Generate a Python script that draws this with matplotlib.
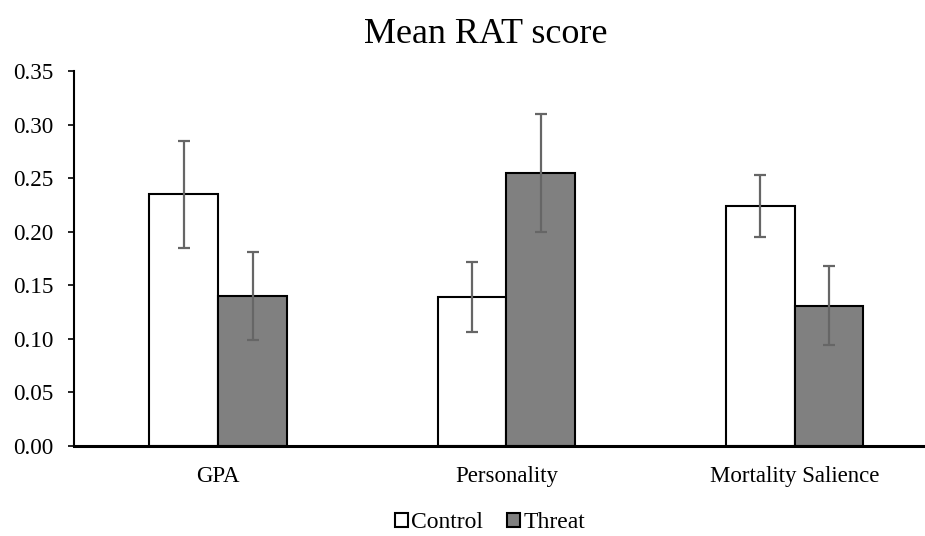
import matplotlib
matplotlib.use("Agg")
import matplotlib.pyplot as plt
from matplotlib.patches import Patch
import numpy as np

plt.rcParams["font.family"] = ["Liberation Serif", "DejaVu Serif"]

# Data
categories = ["GPA", "Personality", "Mortality Salience"]
control_means = [0.235, 0.139, 0.224]
control_errs = [0.050, 0.033, 0.029]
threat_means = [0.140, 0.255, 0.131]
threat_errs = [0.041, 0.055, 0.037]
y_ticks = [0.00, 0.05, 0.10, 0.15, 0.20, 0.25, 0.30, 0.35]

fig = plt.figure(figsize=(9.25, 5.36), dpi=100)
ax = fig.add_axes([0.08, 0.168, 0.935, 0.6995])

x = np.arange(len(categories))
width = 0.2385
err_style = dict(ecolor="#666666", elinewidth=1.6, capsize=4.5, capthick=1.6)

ax.bar(x - width / 2, control_means, width, color="white", edgecolor="black",
       linewidth=1.5, yerr=control_errs, error_kw=err_style, zorder=2)
ax.bar(x + width / 2, threat_means, width, color="#808080", edgecolor="black",
       linewidth=1.5, yerr=threat_errs, error_kw=err_style, zorder=2)

ax.set_xlim(-0.5, 2.5)
ax.set_ylim(0, 0.35)
ax.set_yticks(y_ticks)
ax.set_yticklabels([f"{t:.2f}" for t in y_ticks])
ax.set_xticks(x)
ax.set_xticklabels(categories)

ax.tick_params(axis="y", direction="out", length=4.5, width=1.2, pad=10.5, labelsize=16.7)
ax.tick_params(axis="x", length=0, pad=14.5, labelsize=16.5)

for side in ["top", "right"]:
    ax.spines[side].set_visible(False)
ax.spines["left"].set_linewidth(1.5)
ax.spines["bottom"].set_linewidth(2.2)

fig.text(486 / 925, 1 - 42.7 / 536, "Mean RAT score", ha="center", va="baseline", fontsize=26)

handles = [Patch(facecolor="white", edgecolor="black", linewidth=1.5, label="Control"),
           Patch(facecolor="#808080", edgecolor="black", linewidth=1.5, label="Threat")]
fig.legend(handles=handles, loc="center", bbox_to_anchor=(490 / 925, 1 - 523 / 536),
           ncol=2, frameon=False, fontsize=17, handlelength=0.55, handleheight=0.55,
           handletextpad=0.15, columnspacing=1.0, borderpad=0)

fig.savefig("out.png", dpi=100)
